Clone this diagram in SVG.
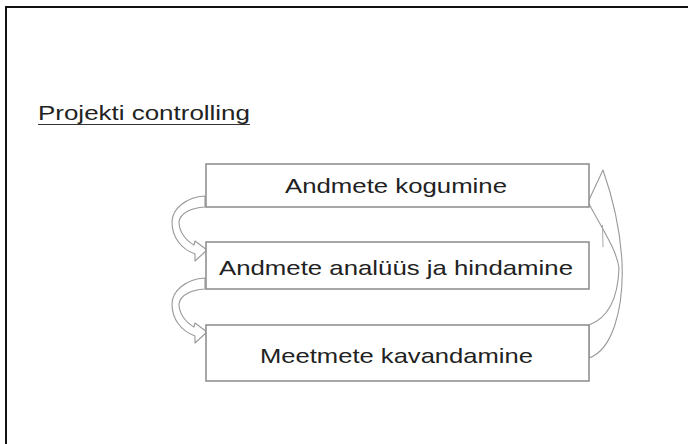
<svg xmlns="http://www.w3.org/2000/svg" width="688" height="444" viewBox="0 0 688 444">
  <style>
    .frame { fill: none; stroke: #111; stroke-width: 2; }
    .box { fill: #fff; stroke: #8a8a8a; stroke-width: 1.5; }
    .lbl { font-family: "Liberation Sans", Arial, sans-serif; font-size: 21px; fill: #222; text-anchor: middle; }
    .title { font-family: "Liberation Sans", Arial, sans-serif; font-size: 20px; fill: #222; }
    .arrow { fill: #fff; stroke: #999; stroke-width: 1.1; stroke-linejoin: round; }
  </style>
  <rect width="688" height="444" fill="#fff"/>
  <rect class="frame" x="6" y="7" width="700" height="460"/>

  <g id="title">
    <text class="title" x="38" y="120" textLength="212" lengthAdjust="spacingAndGlyphs">Projekti controlling</text>
    <line x1="38" y1="124.5" x2="250" y2="124.5" stroke="#333" stroke-width="1"/>
  </g>

  <g id="connectors">
    <path class="arrow" d="M205,196 C186,197 172,209 172,222 C172,237 181,249 195,254 L195,261 L207,250 L195,241 L194,245 C185,240 179,231 179,222 C180,213 191,208 205,207 Z"/>
    <path class="arrow" d="M205,278 C186,279 172,291 172,304 C172,319 181,331 195,336 L195,343 L207,332 L195,323 L194,327 C185,322 179,313 179,304 C180,295 191,290 205,289 Z"/>
    <path class="arrow" d="M589,325 C608,318 618,298 619,268 C617,250 600,225 588,202 L603,170 C610,190 620,225 622,262 C624,310 612,350 589,358 Z"/>
    <line x1="602.5" y1="225" x2="603" y2="247" stroke="#aaa" stroke-width="1"/>
  </g>

  <g id="node-kogumine">
    <rect class="box" x="206" y="164" width="383" height="43"/>
    <text class="lbl" x="396" y="192.5" textLength="222" lengthAdjust="spacingAndGlyphs">Andmete kogumine</text>
  </g>

  <g id="node-analyys">
    <rect class="box" x="206" y="242" width="383" height="47"/>
    <text class="lbl" x="396" y="275" textLength="354" lengthAdjust="spacingAndGlyphs">Andmete analüüs ja hindamine</text>
  </g>

  <g id="node-kavandamine">
    <rect class="box" x="206" y="325" width="383" height="56"/>
    <text class="lbl" x="396.5" y="362.5" textLength="273" lengthAdjust="spacingAndGlyphs">Meetmete kavandamine</text>
  </g>
</svg>
